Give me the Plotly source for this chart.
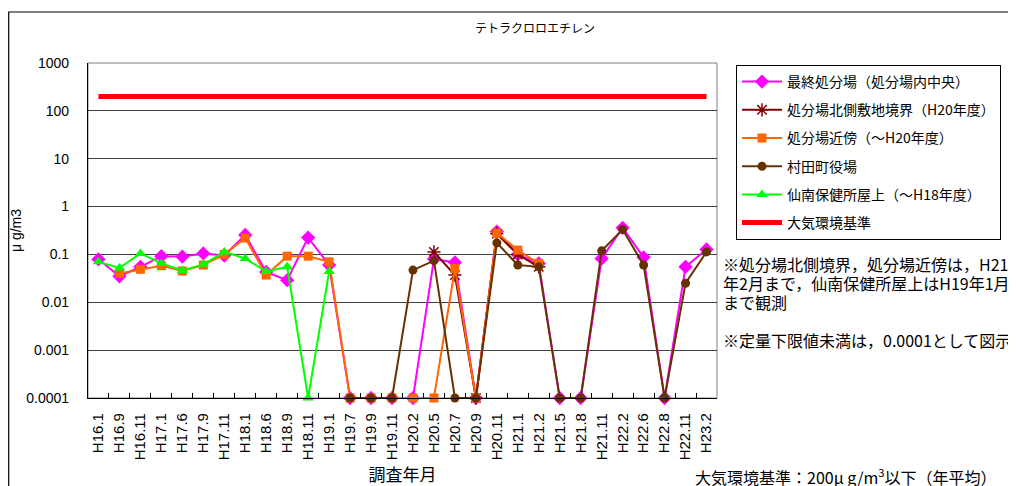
import plotly.graph_objects as go

categories = ["H16.1", "H16.9", "H16.11", "H17.1", "H17.6", "H17.9", "H17.11", "H18.1",
              "H18.6", "H18.9", "H18.11", "H19.1", "H19.7", "H19.9", "H19.11", "H20.2",
              "H20.5", "H20.7", "H20.9", "H20.11", "H21.1", "H21.2", "H21.5", "H21.8",
              "H21.11", "H22.2", "H22.6", "H22.8", "H22.11", "H23.2"]

final_site = [0.079, 0.035, 0.055, 0.092, 0.09, 0.105, 0.095, 0.255,
              0.043, 0.029, 0.225, 0.06, 0.0001, 0.0001, 0.0001, 0.0001,
              0.08, 0.068, 0.0001, 0.3, 0.1, 0.065, 0.0001, 0.0001,
              0.082, 0.36, 0.087, 0.0001, 0.055, 0.127]

north_border = [None] * 16 + [0.113, 0.037, 0.0001, 0.27, 0.1, 0.055] + [None] * 8

nearby = [None, 0.04, 0.049, 0.058, 0.045, 0.06, 0.1, 0.22,
          0.037, 0.092, 0.092, 0.07, 0.0001, 0.0001, 0.0001, 0.0001,
          0.0001, 0.051, 0.0001, 0.28, 0.123, 0.065] + [None] * 8

town_hall = [None] * 12 + [0.0001, 0.0001, 0.0001, 0.047,
                           0.074, 0.0001, 0.0001, 0.174, 0.06, 0.055, 0.0001, 0.0001,
                           0.119, 0.33, 0.06, 0.0001, 0.025, 0.113]

health_center = [0.07, 0.052, 0.105, 0.065, 0.046, 0.062, 0.113, 0.082,
                 0.044, 0.055, 0.0001, 0.044] + [None] * 18

standard = [200] * len(categories)

y_tickvals = [1000, 100, 10, 1, 0.1, 0.01, 0.001, 0.0001]
y_ticktext = ["1000", "100", "10", "1", "0.1", "0.01", "0.001", "0.0001"]

note_lines = ["※処分場北側境界，処分場近傍は，H21",
              "年2月まで，仙南保健所屋上はH19年1月",
              "まで観測"]
note2 = "※定量下限値未満は，0.0001として図示"
std_note = "大気環境基準：200μ g/m<sup>3</sup>以下（年平均）"

JP = "Noto Sans CJK JP"
NUM = "Liberation Sans, Arial, Noto Sans CJK JP"

# page offset (browser body margin) and target geometry in reference pixels
OFF = 8
L, R, T, B = 88, 717, 63, 398
W, H = 1016 - OFF, 486 - OFF


def px_x(p):
    return (p - L) / (R - L)


def px_y(p):
    return (B - p) / (B - T)


fig = go.Figure()

fig.add_trace(go.Scatter(
    x=categories, y=final_site, name="最終処分場（処分場内中央）", mode="lines+markers",
    line=dict(color="#FF00FF", width=2),
    marker=dict(symbol="diamond", size=11, color="#FF00FF"),
    legendgroup="a", cliponaxis=False))
fig.add_trace(go.Scatter(
    x=categories, y=north_border, name="処分場北側敷地境界（H20年度）", mode="lines+markers",
    line=dict(color="#800000", width=2),
    marker=dict(symbol="asterisk-open", size=11, color="#800000",
                line=dict(color="#800000", width=1.5)),
    legendgroup="b", cliponaxis=False))
fig.add_trace(go.Scatter(
    x=categories, y=nearby, name="処分場近傍（～H20年度）", mode="lines+markers",
    line=dict(color="#FF6600", width=2),
    marker=dict(symbol="square", size=9, color="#FF6600"),
    legendgroup="c", cliponaxis=False))
fig.add_trace(go.Scatter(
    x=categories, y=town_hall, name="村田町役場", mode="lines+markers",
    line=dict(color="#663300", width=2),
    marker=dict(symbol="circle", size=9, color="#663300"),
    legendgroup="d", cliponaxis=False))
fig.add_trace(go.Scatter(
    x=categories, y=health_center, name="仙南保健所屋上（～H18年度）", mode="lines+markers",
    line=dict(color="#00FF00", width=2),
    marker=dict(symbol="triangle-up", size=10, color="#00FF00"),
    legendgroup="e", cliponaxis=False))
fig.add_trace(go.Scatter(
    x=categories, y=standard, name="大気環境基準", mode="lines",
    line=dict(color="#FF0000", width=5),
    legendgroup="f"))

shapes = [
    dict(type="rect", xref="paper", yref="paper",
         x0=px_x(8.7), x1=px_x(1100), y0=px_y(600), y1=px_y(12),
         line=dict(color="black", width=1.2), fillcolor="rgba(0,0,0,0)", layer="below"),
    dict(type="rect", xref="paper", yref="paper", x0=0, x1=1, y0=0, y1=1,
         line=dict(color="#808080", width=1), fillcolor="rgba(0,0,0,0)", layer="below"),
]

annotations = [
    dict(text="テトラクロロエチレン", xref="paper", yref="paper", x=px_x(535), y=px_y(27),
         showarrow=False, font=dict(family=JP, size=12, color="black"),
         xanchor="center", yanchor="middle"),
]
for i, line in enumerate(note_lines):
    annotations.append(dict(text=line, xref="paper", yref="paper",
                            x=px_x(721), y=px_y(264 + 19 * i), showarrow=False,
                            xanchor="left", yanchor="middle",
                            font=dict(family=JP, size=16, color="black")))
annotations.append(dict(text=note2, xref="paper", yref="paper",
                        x=px_x(721), y=px_y(340), showarrow=False,
                        xanchor="left", yanchor="middle",
                        font=dict(family=JP, size=16, color="black")))
annotations.append(dict(text=std_note, xref="paper", yref="paper",
                        x=px_x(693), y=px_y(476), showarrow=False,
                        xanchor="left", yanchor="middle",
                        font=dict(family=JP, size=16, color="black")))

fig.update_layout(
    width=W, height=H,
    margin=dict(l=L - OFF, r=W - (R - OFF), t=T - OFF, b=H - (B - OFF), pad=0),
    paper_bgcolor="white", plot_bgcolor="white",
    showlegend=True,
    legend=dict(x=px_x(736), y=px_y(65), xanchor="left", yanchor="top",
                bordercolor="black", borderwidth=1, bgcolor="white",
                font=dict(family=JP, size=14, color="black"),
                tracegroupgap=7, traceorder="grouped",
                itemwidth=40),
    shapes=shapes,
    annotations=annotations,
    xaxis=dict(type="category", categoryorder="array", categoryarray=categories,
               range=[-0.5, len(categories) - 0.5], automargin=False,
               showline=True, linecolor="black", linewidth=1.2,
               ticks="inside", ticklen=5, tickcolor="black", tickson="boundaries",
               tickangle=-90, tickfont=dict(family=NUM, size=15, color="black"),
               ticklabelstandoff=8,
               showgrid=False, zeroline=False,
               title=dict(text="調査年月", font=dict(family=JP, size=17, color="black"),
                          standoff=10)),
    yaxis=dict(type="log", range=[-4, 3], automargin=False,
               tickvals=y_tickvals, ticktext=y_ticktext,
               showline=True, linecolor="black", linewidth=1.2,
               showgrid=True, gridcolor="#404040", gridwidth=1,
               ticks="", tickfont=dict(family=NUM, size=14, color="black"),
               ticklabelstandoff=15,
               zeroline=False,
               title=dict(text="μ g/m3", font=dict(family=NUM, size=14, color="black"),
                          standoff=7)),
)

fig.write_html("out.html")
